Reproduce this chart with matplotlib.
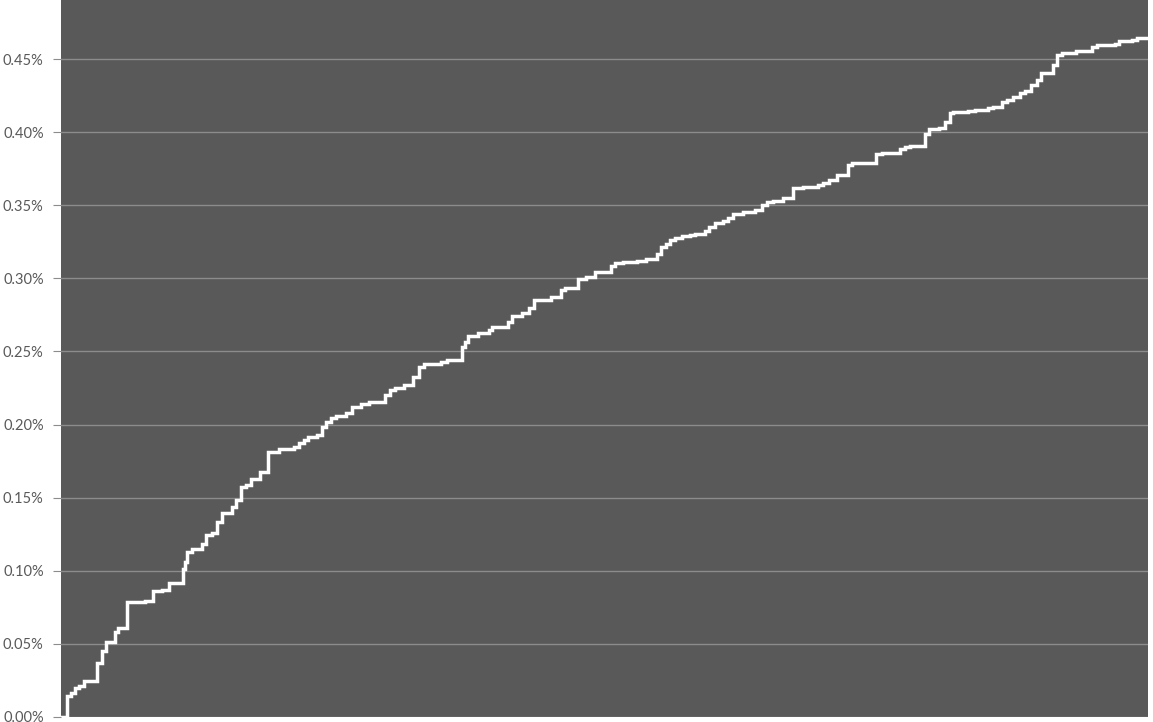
import matplotlib
matplotlib.use("Agg")
import matplotlib.pyplot as plt
from matplotlib.ticker import FuncFormatter, MultipleLocator

# step positions (time index) and cumulative share in percent
steps = [0, 6, 10, 14, 18, 23, 36, 41, 45, 54, 57, 66, 84, 92, 101, 108,
         122, 124, 126, 131, 141, 145, 151, 156, 161, 171, 175, 180, 185, 190,
         199, 207, 218, 233, 238, 243, 247, 256, 261, 265, 270, 275, 285, 291,
         300, 308, 324, 329, 334, 343, 352, 358, 363, 380, 386, 401, 404, 407,
         417, 428, 431, 447, 451, 461, 468, 473, 490, 500, 504, 517, 525, 534,
         549, 553, 561, 575, 584, 595, 599, 604, 608, 613, 620, 628, 633, 643,
         647, 653, 661, 666, 671, 681, 693, 700, 705, 711, 721, 731, 741, 756,
         761, 767, 775, 786, 790, 814, 820, 838, 843, 848, 863, 867, 877, 883,
         888, 891, 906, 913, 926, 931, 940, 945, 951, 958, 963, 969, 975, 979,
         991, 995, 1000, 1014, 1030, 1035, 1053, 1057, 1070, 1075, 1086]
share = [0.0, 0.0144, 0.0164, 0.0198, 0.0212, 0.0246, 0.037, 0.045, 0.051,
         0.058, 0.061, 0.0787, 0.079, 0.086, 0.087, 0.0917,
         0.101, 0.106, 0.1128, 0.1149, 0.1183, 0.1245, 0.1258, 0.1334, 0.1395,
         0.1436, 0.1484, 0.1573, 0.1587, 0.1628, 0.1676, 0.1813, 0.1833, 0.1847,
         0.1874, 0.1895, 0.1915, 0.1929, 0.1984, 0.2018, 0.2045, 0.2059, 0.208,
         0.2121, 0.2141, 0.2155, 0.2203, 0.2237, 0.225, 0.227, 0.2326, 0.2394,
         0.2414, 0.2428, 0.2442, 0.253, 0.2565, 0.2606, 0.2626, 0.2647, 0.2668,
         0.2702, 0.2743, 0.2763, 0.2797, 0.2852, 0.2873, 0.2921, 0.2934, 0.2996,
         0.301, 0.3044, 0.3085, 0.3105, 0.3112, 0.3119, 0.3133, 0.3167, 0.3215,
         0.3235, 0.3263, 0.3276, 0.329, 0.3297, 0.3304, 0.3324, 0.3351, 0.3379,
         0.3393, 0.3413, 0.344, 0.3454, 0.3468, 0.3502, 0.3522, 0.3529, 0.355,
         0.3618, 0.3625, 0.3639, 0.3652, 0.3673, 0.3707, 0.3776, 0.3789, 0.3851,
         0.3858, 0.3885, 0.3899, 0.3906, 0.3988, 0.4022, 0.4029, 0.407, 0.4132,
         0.4138, 0.4145, 0.4152, 0.4166, 0.4173, 0.4206, 0.422, 0.4241, 0.4268,
         0.4282, 0.4323, 0.4357, 0.4405, 0.446, 0.4528, 0.4541, 0.4555, 0.4582,
         0.4596, 0.4603, 0.4624, 0.463, 0.4644, 0.4644]

fig = plt.figure(figsize=(11.53, 7.22), dpi=100)
ax = fig.add_axes([61 / 1153, 5 / 722, 1087 / 1153, 717 / 722])
ax.set_facecolor("#595959")

ax.step(steps, share, where="post", color="white", lw=2.5, solid_joinstyle="miter")

ax.set_xlim(0, 1086)
ax.set_ylim(0, 0.4904)
ax.yaxis.set_major_locator(MultipleLocator(0.05))
ax.yaxis.set_major_formatter(FuncFormatter(lambda v, p: f"{v:.2f}%"))
ax.grid(axis="y", color="#8c8c8c", lw=1)
ax.set_axisbelow(True)
ax.set_xticks([])
for s in ax.spines.values():
    s.set_visible(False)
ax.tick_params(axis="y", length=6, color="#8c8c8c", pad=6.5, labelcolor="#595959")
for lab in ax.get_yticklabels():
    lab.set_fontfamily("Lato")
    lab.set_fontsize(10.5)

fig.savefig("out.png", dpi=100)
